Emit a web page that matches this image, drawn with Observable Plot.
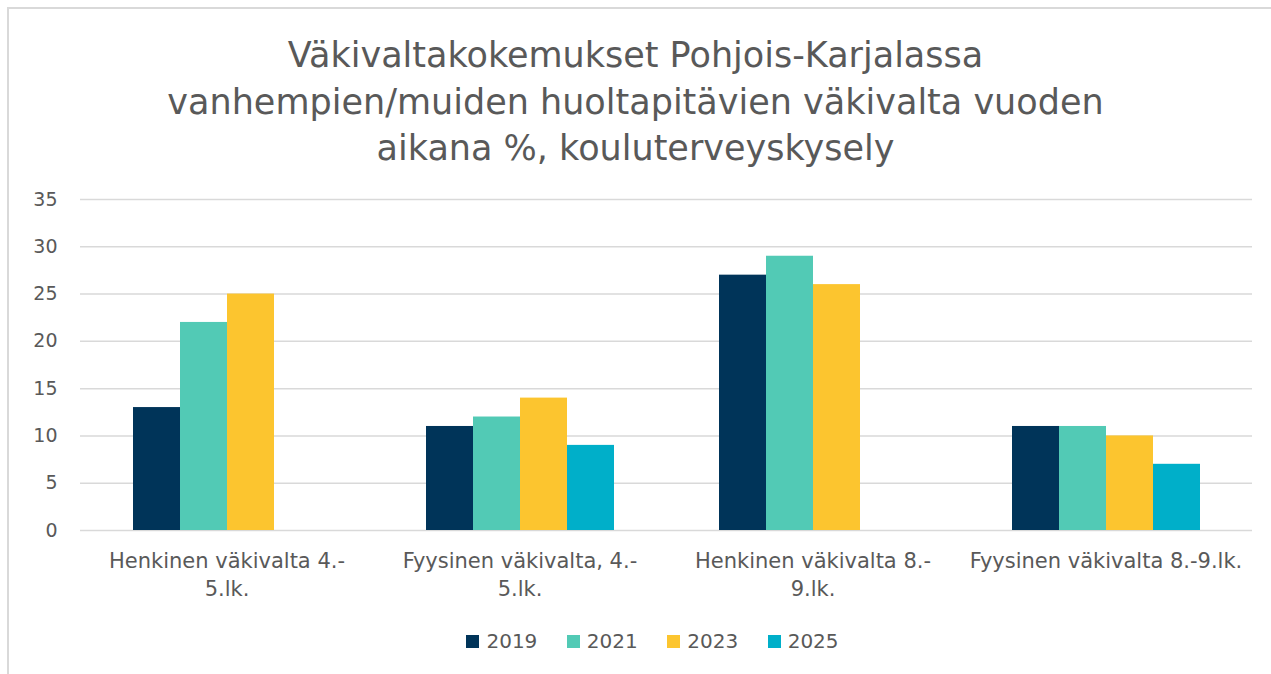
<!DOCTYPE html>
<html>
<head>
<meta charset="utf-8">
<script src="https://cdn.jsdelivr.net/npm/d3@7"></script>
<script src="https://cdn.jsdelivr.net/npm/@observablehq/plot@0.6"></script>
<style>
  html, body { margin: 0; padding: 0; background: #fff; width: 1271px; height: 674px; overflow: hidden; }
  #frame { position: absolute; left: 7px; top: 7px; width: 1300px; height: 700px;
           border-top: 2px solid #d9d9d9; border-left: 2px solid #d9d9d9; }
  #title { position: absolute; left: 0; top: 32px; width: 1271px; text-align: center;
           font-family: "DejaVu Sans", sans-serif;
           font-size: 35px; line-height: 46.5px; color: #595959; }
  #chart { position: absolute; left: 0; top: 180px; }
  #legend { position: absolute; top: 629px; left: 17px; width: 1271px; display: flex; justify-content: center;
            font-family: "DejaVu Sans", sans-serif; font-size: 20px; color: #595959; }
  .item { display: flex; align-items: center; margin: 0 14.75px; }
  .sw { width: 13px; height: 13px; margin-right: 7px; }
</style>
</head>
<body>
<div id="frame"></div>
<div id="title">Väkivaltakokemukset Pohjois-Karjalassa<br>vanhempien/muiden huoltapitävien väkivalta vuoden<br>aikana %, kouluterveyskysely</div>
<div id="chart"></div>
<div id="legend"></div>
<script>
const categories = ["Henkinen väkivalta 4.-5.lk.", "Fyysinen väkivalta, 4.-5.lk.", "Henkinen väkivalta 8.-9.lk.", "Fyysinen väkivalta 8.-9.lk."];
const categoryLabels = ["Henkinen väkivalta 4.-\n5.lk.", "Fyysinen väkivalta, 4.-\n5.lk.", "Henkinen väkivalta 8.-\n9.lk.", "Fyysinen väkivalta 8.-9.lk."];
const years = ["2019", "2021", "2023", "2025"];
const colors = ["#003459", "#52cab5", "#fcc52f", "#00afc9"];
const v2019 = [13, 11, 27, 11];
const v2021 = [22, 12, 29, 11];
const v2023 = [25, 14, 26, 10];
const v2025 = [null, 9, null, 7];
const yTicks = [0, 5, 10, 15, 20, 25, 30, 35];

const series = [v2019, v2021, v2023, v2025];
const data = [];
categories.forEach((c, i) => {
  years.forEach((y, j) => {
    const v = series[j][i];
    if (v != null) data.push({category: c, year: y, value: v});
  });
});

const chart = Plot.plot({
  width: 1271,
  height: 430,
  marginTop: 19,
  marginBottom: 80,
  marginLeft: 80,
  marginRight: 19,
  style: {fontFamily: "DejaVu Sans, sans-serif", background: "transparent"},
  fx: {domain: categories, padding: 0, label: null},
  x: {domain: years, paddingInner: 0, paddingOuter: 1.077, axis: null},
  y: {domain: [0, 35], ticks: yTicks, label: null},
  color: {domain: years, range: colors},
  marks: [
    Plot.gridY(yTicks, {stroke: "#d9d9d9", strokeOpacity: 1, strokeWidth: 1.5}),
    Plot.axisY({ticks: yTicks, tickSize: 0, tickPadding: 23, fontSize: 19, color: "#595959", label: null}),
    Plot.barY(data, {fx: "category", x: "year", y: "value", fill: "year"}),
    Plot.axisFx({anchor: "bottom", tickSize: 0, tickPadding: 17, lineHeight: 1.35,
      tickFormat: d => categoryLabels[categories.indexOf(d)],
      fontSize: 21, color: "#595959", label: null})
  ]
});
document.getElementById("chart").appendChild(chart);

const legend = document.getElementById("legend");
years.forEach((y, i) => {
  const it = document.createElement("div");
  it.className = "item";
  const sw = document.createElement("div");
  sw.className = "sw";
  sw.style.background = colors[i];
  const t = document.createElement("span");
  t.textContent = y;
  it.appendChild(sw); it.appendChild(t);
  legend.appendChild(it);
});
</script>
</body>
</html>
